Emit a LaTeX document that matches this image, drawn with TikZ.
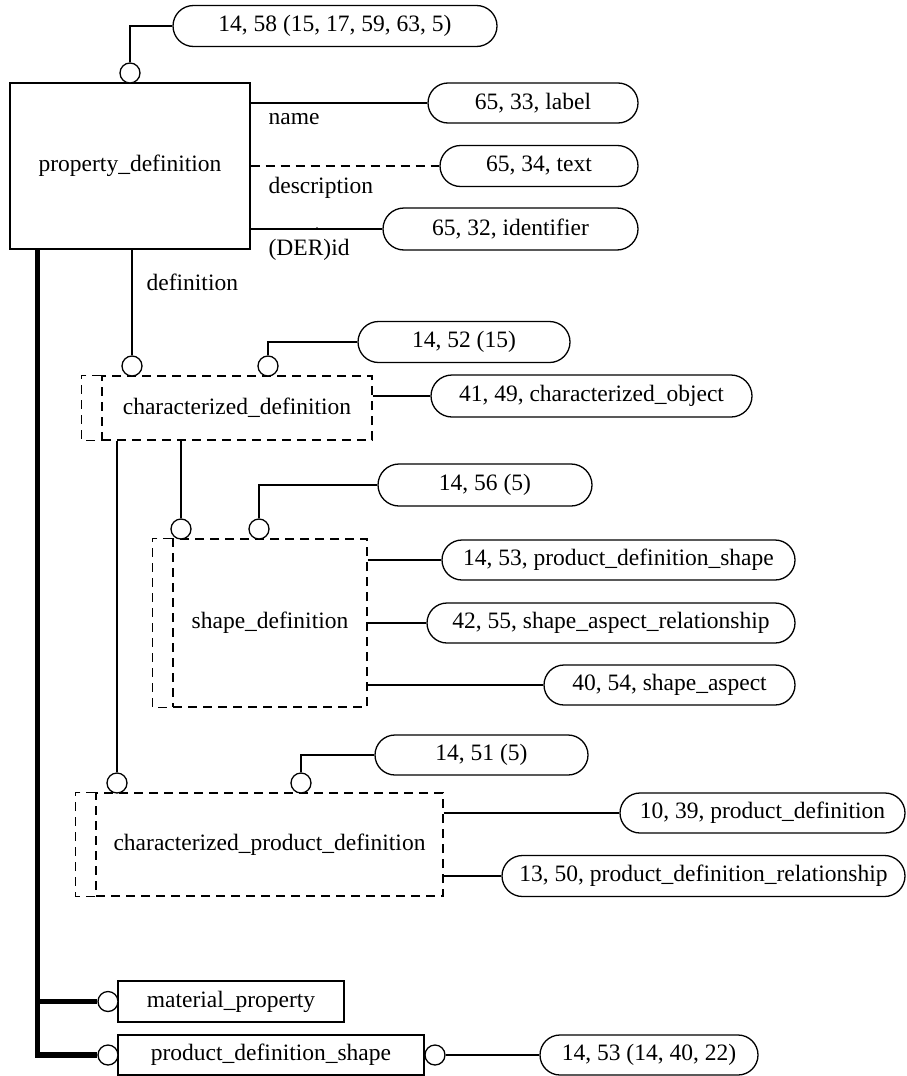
\documentclass[tikz,border=0pt]{standalone}
\usepackage{fontspec}
\setmainfont{Liberation Serif}
\usetikzlibrary{shapes.misc}
\begin{document}
\begin{tikzpicture}[x=1pt,y=-1pt,
  font=\fontsize{23.5}{28}\selectfont,
  line width=1.3pt,
  ent/.style={draw,rectangle,inner sep=0pt},
  dbox/.style={draw,rectangle,inner sep=0pt,dash pattern=on 9pt off 6pt},
  dline/.style={dash pattern=on 9pt off 6pt},
  pill/.style={draw,rounded rectangle,inner sep=0pt},
  ring/.style={draw,circle,fill=white,minimum size=20pt,inner sep=0pt},
  lab/.style={anchor=west,inner sep=0pt},
  heavy/.style={line width=5.5pt}]
\useasboundingbox (0,0) rectangle (907,1076);

% entities
\node[ent,minimum width=240pt,minimum height=166pt] (pd) at (130,166) {property\_definition};
\node[dbox,minimum width=270pt,minimum height=64pt] (cd) at (237,408) {characterized\_definition};
\node[dbox,minimum width=194pt,minimum height=168pt] (sd) at (270,623) {shape\_definition};
\node[dbox,minimum width=347pt,minimum height=103pt] (cpd) at (269.5,844.5) {characterized\_product\_definition};
\node[ent,minimum width=226pt,minimum height=41pt] (mp) at (231,1001.5) {material\_property};
\node[ent,minimum width=306pt,minimum height=40pt] (pds) at (271,1055) {product\_definition\_shape};

% double left borders of dashed boxes
\draw[dline] (cd.north west) -- ++(-20,0) |- (cd.south west);
\draw[dline] (sd.north west) -- ++(-20,0) |- (sd.south west);
\draw[dline] (cpd.north west) -- ++(-20,0) |- (cpd.south west);

% pills
\node[pill,minimum width=324pt,minimum height=41pt] (p58) at (335,26) {14, 58 (15, 17, 59, 63, 5)};
\node[pill,minimum width=210pt,minimum height=40pt] (p33) at (533,103) {65, 33, label};
\node[pill,minimum width=198pt,minimum height=41pt] (p34) at (539,166) {65, 34, text};
\node[pill,minimum width=255pt,minimum height=42pt] (p32) at (510.5,229) {65, 32, identifier};
\node[pill,minimum width=212pt,minimum height=41pt] (p52) at (464,342) {14, 52 (15)};
\node[pill,minimum width=321pt,minimum height=42pt] (p49) at (591.5,396) {41, 49, characterized\_object};
\node[pill,minimum width=214pt,minimum height=42pt] (p56) at (485,485) {14, 56 (5)};
\node[pill,minimum width=353pt,minimum height=40pt] (p53a) at (618.5,560) {14, 53, product\_definition\_shape};
\node[pill,minimum width=368pt,minimum height=40pt] (p55) at (611,623) {42, 55, shape\_aspect\_relationship};
\node[pill,minimum width=251pt,minimum height=40pt] (p54) at (669.5,685) {40, 54, shape\_aspect};
\node[pill,minimum width=213pt,minimum height=40pt] (p51) at (481.5,755) {14, 51 (5)};
\node[pill,minimum width=285pt,minimum height=40pt] (p39) at (762.5,813) {10, 39, product\_definition};
\node[pill,minimum width=403pt,minimum height=41pt] (p50) at (703.5,876) {13, 50, product\_definition\_relationship};
\node[pill,minimum width=218pt,minimum height=40pt] (p53b) at (649,1055) {14, 53 (14, 40, 22)};

% attribute labels
\node[lab] (lname) at (268,119) {name};
\node[lab] (ldesc) at (268,188) {description};
\node[lab] (lid) at (268,250) {(DER)id};
\node[lab] (ldef) at (146,282) {definition};

% thick subtype tree
\coordinate (tk) at ([xshift=28pt]pd.south west);
\node[ring] (c7) at (108,1001.5) {};
\node[ring] (c8) at (108,1055) {};
\draw[heavy] (tk) |- (c8.west);
\draw[heavy] (tk |- c7) -- (c7.west);

% rings
\node[ring] (c0) at (130,73) {};
\node[ring] (c1) at (132,366) {};
\node[ring] (c2) at (268,366) {};
\node[ring] (c3) at (181,529) {};
\node[ring] (c4) at (259,529) {};
\node[ring] (c5) at (117,783) {};
\node[ring] (c6) at (301,783) {};
\node[ring] (c9) at (435,1055) {};

% connectors
\draw (c0.north) |- (p58.west);
\draw (pd.east |- p33) -- (p33.west);
\draw[dline] (pd.east |- p34) -- (p34.west);
\draw (pd.east |- p32) -- (p32.west);
\fill (317,228.5) circle (1.3pt);
\draw (c1.north |- pd.south) -- (c1.north);
\draw (c2.north) |- (p52.west);
\draw (cd.east |- p49) -- (p49.west);
\draw (c3.north |- cd.south) -- (c3.north);
\draw (c5.north |- cd.south) -- (c5.north);
\draw (c4.north) |- (p56.west);
\draw (sd.east |- p53a) -- (p53a.west);
\draw (sd.east |- p55) -- (p55.west);
\draw (sd.east |- p54) -- (p54.west);
\draw (c6.north) |- (p51.west);
\draw (cpd.east |- p39) -- (p39.west);
\draw (cpd.east |- p50) -- (p50.west);
\draw (c9.east) -- (p53b.west);
\end{tikzpicture}
\end{document}
